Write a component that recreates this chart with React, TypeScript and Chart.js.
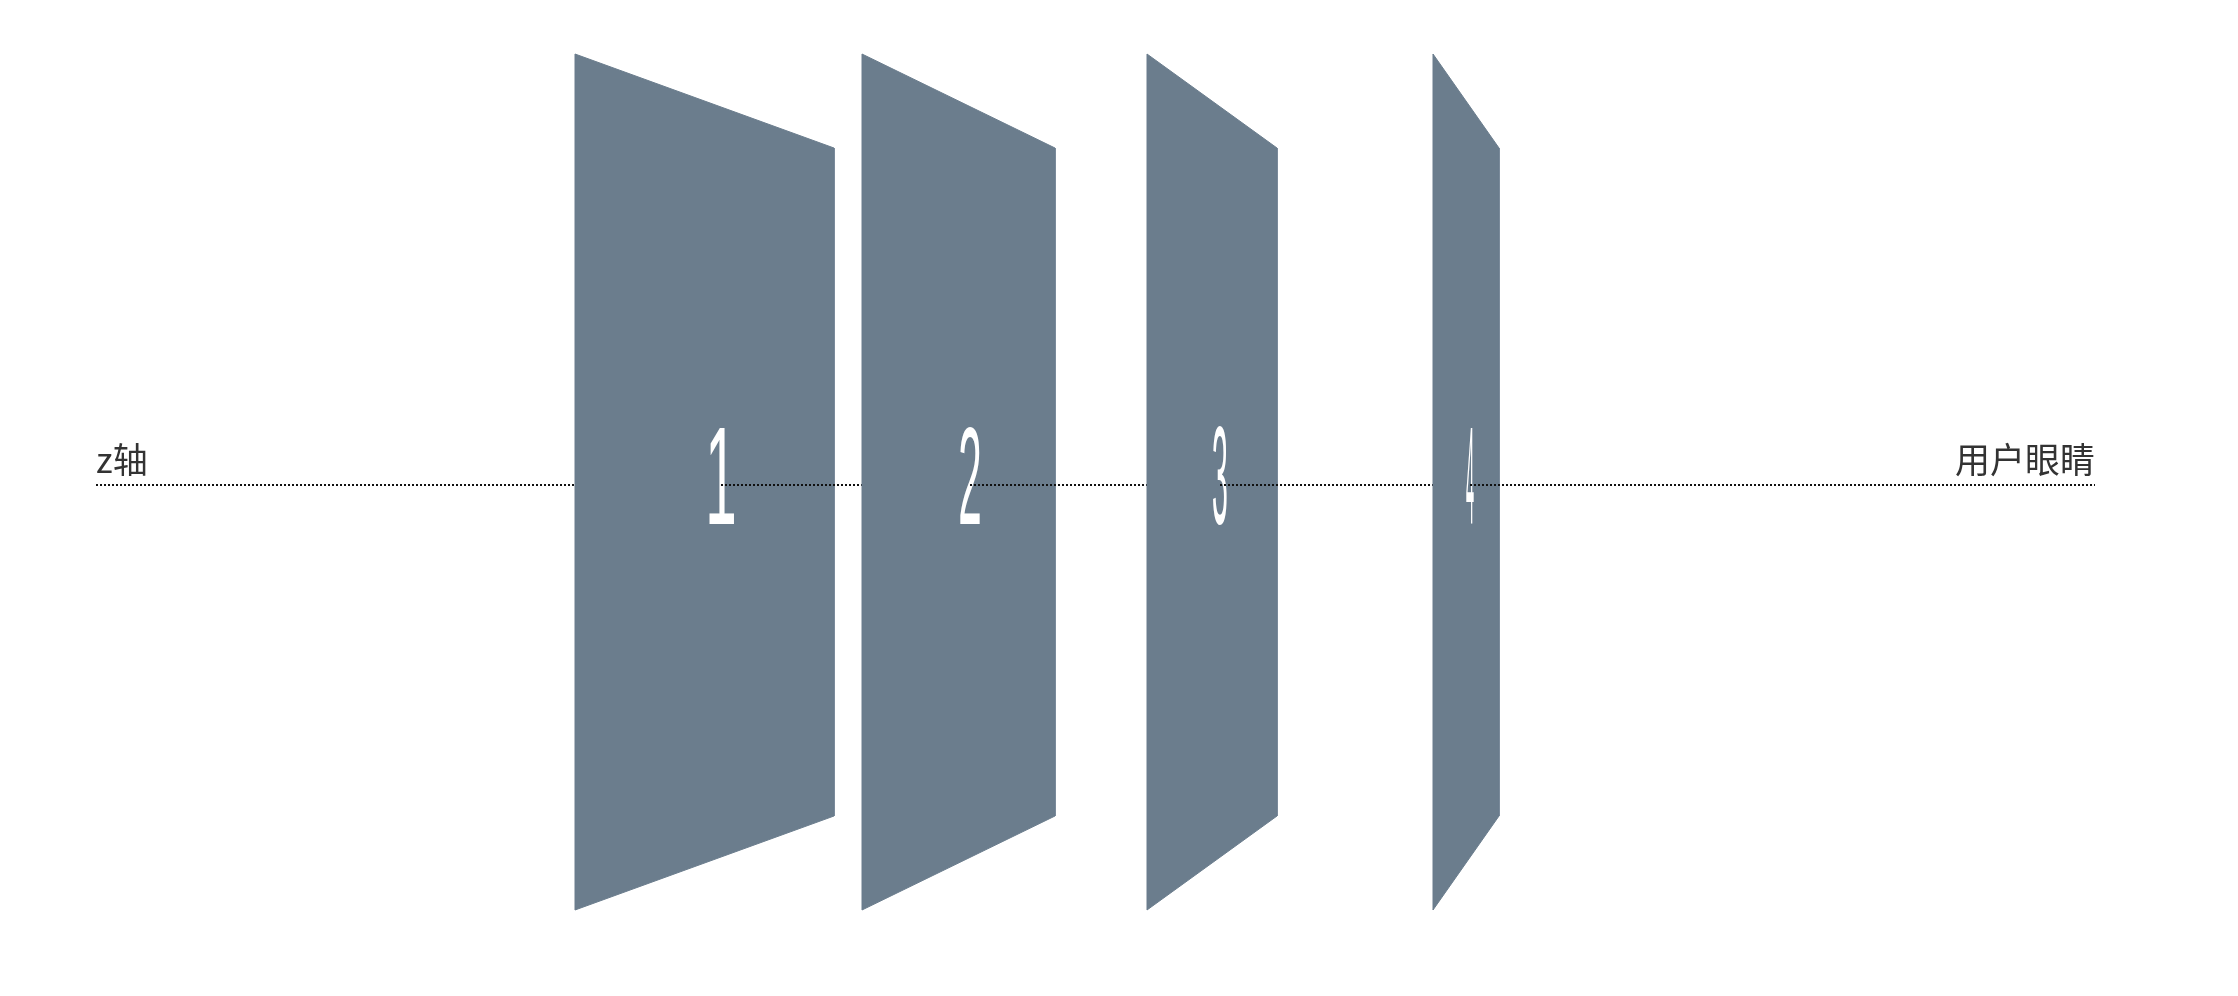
import React, { useEffect, useRef } from "react";
import { Chart, registerables } from "chart.js";
Chart.register(...registerables);

const W = 2238, H = 996;
const panelLabels = ["1", "2", "3", "4"];
const panelLeft = [575, 862, 1147, 1433];
const panelRight = [834, 1055, 1277, 1499];
const outerTop = 54, innerTop = 148, innerBottom = 816, outerBottom = 910;
const digitX = [721, 970, 1220, 1470];
const axisY = 485, axisStart = 96, axisEnd = 2095;
const PANEL = "#6b7d8d";

export default function App() {
  const ref = useRef<HTMLCanvasElement>(null);
  useEffect(() => {
    document.body.style.margin = "0";
    const datasets: any[] = [];
    const dotted = (x0: number, x1: number, order: number) => ({
      data: [{ x: x0, y: axisY }, { x: x1, y: axisY }],
      borderColor: "#111", borderWidth: 2, borderDash: [2, 2], pointRadius: 0,
      fill: false, order, showLine: true,
    });
    datasets.push(dotted(axisStart, panelLeft[0], 100));
    panelLabels.forEach((lab, i) => {
      const l = panelLeft[i], r = panelRight[i];
      datasets.push({
        label: lab,
        data: [
          { x: l, y: outerTop }, { x: r, y: innerTop }, { x: r, y: innerBottom },
          { x: l, y: outerBottom }, { x: l, y: outerTop },
        ],
        borderColor: PANEL, borderWidth: 1, backgroundColor: PANEL, fill: "shape",
        pointRadius: 0, showLine: true, tension: 0, order: 90 - i * 10,
      });
      const end = i < 3 ? panelLeft[i + 1] : axisEnd;
      datasets.push(dotted(digitX[i], end, 85 - i * 10));
    });
    const plugin = {
      id: "deco",
      afterDatasetDraw(chart: any, args: any) {
        const ds = chart.data.datasets[args.index];
        if (!ds.label) return;
        const i = panelLabels.indexOf(ds.label);
        const c = chart.ctx;
        const xs = chart.scales.x, ys = chart.scales.y;
        c.save();
        c.fillStyle = "#fff";
        c.font = "140px 'Liberation Sans', sans-serif";
        c.textAlign = "center";
        c.textBaseline = "middle";
        const sx = (panelRight[i] - panelLeft[i]) / 640;
        c.translate(xs.getPixelForValue(digitX[i]), ys.getPixelForValue(axisY));
        c.scale(sx, 1);
        c.fillText(ds.label, 0, 0);
        c.restore();
      },
      afterDraw(chart: any) {
        const c = chart.ctx;
        const xs = chart.scales.x, ys = chart.scales.y;
        c.save();
        c.fillStyle = "#333";
        c.font = "35px 'Noto Sans CJK SC', sans-serif";
        c.textBaseline = "alphabetic";
        c.textAlign = "left";
        c.fillText("z轴", xs.getPixelForValue(axisStart), ys.getPixelForValue(axisY - 12));
        c.textAlign = "right";
        c.fillText("用户眼睛", xs.getPixelForValue(axisEnd), ys.getPixelForValue(axisY - 12));
        c.restore();
      },
    };
    const chart = new Chart(ref.current!, {
      type: "scatter",
      data: { datasets },
      options: {
        animation: false, responsive: false, maintainAspectRatio: false,
        layout: { padding: 0 },
        plugins: { legend: { display: false }, tooltip: { enabled: false } },
        scales: {
          x: { type: "linear", min: 0, max: W, display: false },
          y: { type: "linear", min: 0, max: H, reverse: true, display: false },
        },
      },
      plugins: [plugin],
    });
    return () => chart.destroy();
  }, []);
  return (
    <div style={{ width: W, height: H }}>
      <canvas ref={ref} width={W} height={H} style={{ width: W, height: H, display: "block" }} />
    </div>
  );
}
